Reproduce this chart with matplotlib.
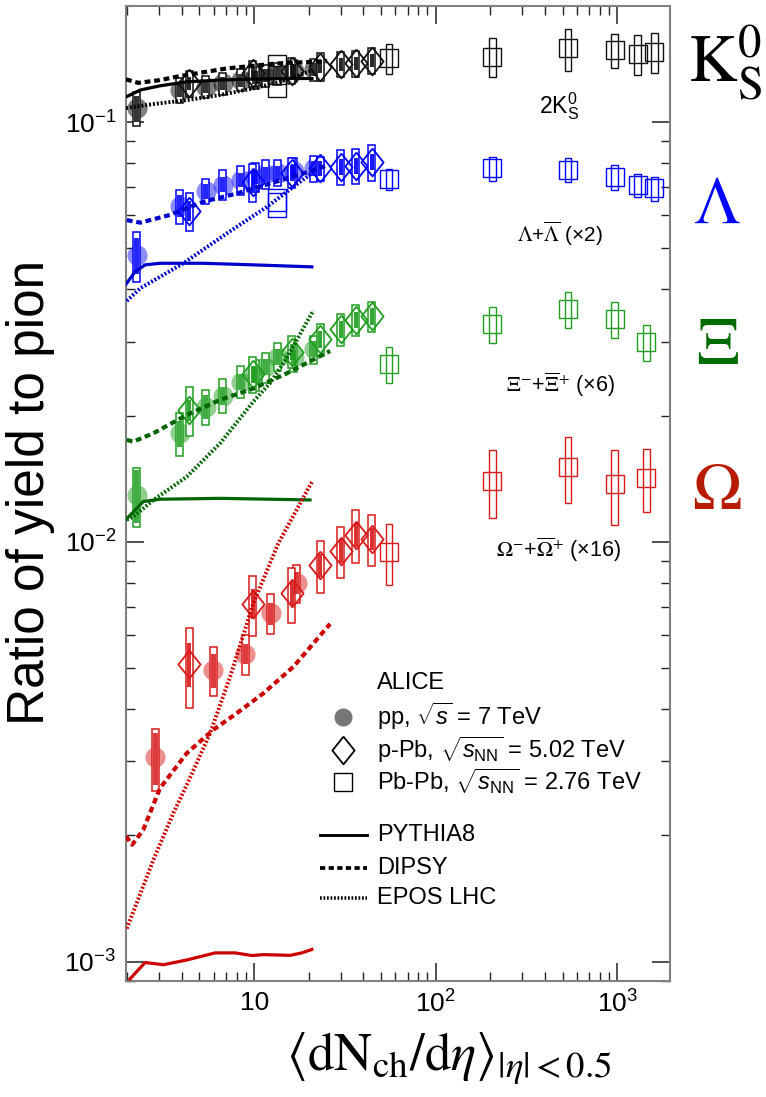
import numpy as np
import matplotlib
matplotlib.use('Agg')
import matplotlib.pyplot as plt
from matplotlib.patches import Rectangle
from matplotlib.lines import Line2D
from matplotlib.ticker import FixedLocator, FuncFormatter, NullFormatter, LogLocator

plt.rcParams['font.family'] = ['Liberation Sans', 'DejaVu Sans']
plt.rcParams['mathtext.fontset'] = 'custom'
plt.rcParams['mathtext.rm'] = 'Liberation Sans'
plt.rcParams['mathtext.it'] = 'Liberation Sans:italic'
plt.rcParams['mathtext.bf'] = 'Liberation Sans:bold'
plt.rcParams['mathtext.sf'] = 'Liberation Sans'

# ------------------------------------------------------------------ data
pp_x = [2.26, 3.90, 5.40, 6.72, 8.45, 10.1, 11.5, 13.5, 16.5, 21.3]
ppb_x = [4.4, 9.8, 16.1, 23.2, 30.0, 36.2, 44.4]
pbpb_x7 = [13.4, 55.5, 205, 537, 966, 1294, 1601]
pbpb_x5 = [55.5, 205, 537, 966, 1447]
omega_pp_x = [2.85, 5.97, 8.92, 12.36, 17.2]

# K0S (x2)
k0_pp = [0.1078, 0.1192, 0.1213, 0.1236, 0.1259, 0.1278, 0.1290, 0.1307, 0.1326, 0.1335]
k0_pp_sys = [0.093, 0.071, 0.060, 0.060, 0.060, 0.060, 0.060, 0.060, 0.060, 0.060]
k0_pp_unc = [0.070, 0.040, 0.035, 0.035, 0.035, 0.035, 0.035, 0.035, 0.035, 0.035]
k0_ppb = [0.1236, 0.1307, 0.1326, 0.1355, 0.1374, 0.1379, 0.1400]
k0_ppb_sys = [0.071, 0.071, 0.071, 0.075, 0.068, 0.071, 0.071]
k0_ppb_unc = [0.035, 0.035, 0.035, 0.035, 0.035, 0.035, 0.035]
k0_pbpb = [0.1298, 0.1418, 0.1430, 0.1498, 0.1484, 0.1452, 0.1470]
k0_pbpb_sys = [0.115, 0.080, 0.107, 0.115, 0.093, 0.109, 0.109]

# Lambda (x2)
la_pp = [0.0482, 0.0632, 0.0685, 0.0710, 0.0728, 0.0741, 0.0751, 0.0757, 0.0766, 0.0776]
la_pp_sys = [0.136, 0.093, 0.071, 0.080, 0.080, 0.080, 0.080, 0.071, 0.071, 0.071]
la_pp_unc = [0.098, 0.060, 0.040, 0.040, 0.040, 0.040, 0.040, 0.040, 0.040, 0.040]
la_ppb = [0.0614, 0.0721, 0.0757, 0.0776, 0.0783, 0.0786, 0.0804]
la_ppb_sys = [0.104, 0.103, 0.082, 0.066, 0.098, 0.096, 0.098]
la_ppb_unc = [0.055, 0.060, 0.045, 0.040, 0.045, 0.045, 0.045]
la_pbpb = [0.0644, 0.0731, 0.0776, 0.0769, 0.0741, 0.0708, 0.0695]
la_pbpb_sys = [0.076, 0.057, 0.066, 0.066, 0.069, 0.064, 0.066]

# Xi (x6)
xi_pp = [0.01294, 0.01815, 0.0210, 0.0223, 0.0241, 0.0250, 0.0261, 0.0276, 0.0275, 0.0288]
xi_pp_sys = [0.160, 0.115, 0.098, 0.093, 0.088, 0.085, 0.082, 0.077, 0.077, 0.077]
xi_pp_unc = [0.145, 0.071, 0.064, 0.050, 0.044, 0.044, 0.044, 0.044, 0.044, 0.044]
xi_ppb = [0.0206, 0.0251, 0.0284, 0.0304, 0.0321, 0.0338, 0.0345]
xi_ppb_sys = [0.134, 0.096, 0.088, 0.088, 0.088, 0.086, 0.082]
xi_ppb_unc = [0.060, 0.045, 0.045, 0.045, 0.045, 0.045, 0.045]
xi_pbpb = [0.02655, 0.0330, 0.0358, 0.0339, 0.0299]
xi_pbpb_sys = [0.098, 0.098, 0.098, 0.098, 0.098]

# Omega (x16)
om_pp = [0.003066, 0.004957, 0.00541, 0.00676, 0.00798]
om_pp_sys = [0.167, 0.134, 0.109, 0.109, 0.102]
om_pp_unc = [0.141, 0.093, 0.055, 0.060, 0.060]
om_ppb = [0.00512, 0.00712, 0.00755, 0.00881, 0.00953, 0.0104, 0.01017]
om_ppb_sys = [0.215, 0.163, 0.150, 0.140, 0.141, 0.145, 0.139]
om_ppb_unc = [0.120, 0.082, 0.069, 0.064, 0.064, 0.064, 0.060]
om_pbpb = [0.00945, 0.01397, 0.0151, 0.01374, 0.01422]
om_pbpb_sys = [0.165, 0.182, 0.178, 0.202, 0.173]

# model curves
k0_pythia_x = [1.97, 2.36, 3.03, 4.26, 6.5, 9.87, 15.1, 20.8]
k0_pythia_y = [0.1148, 0.1192, 0.1220, 0.1247, 0.1259, 0.1266, 0.1270, 0.1270]
k0_dipsy_x = [1.97, 2.3, 3.0, 3.91, 7.07, 13.3, 25.2]
k0_dipsy_y = [0.1264, 0.1240, 0.1258, 0.1287, 0.1342, 0.1379, 0.1397]
k0_epos_x = [1.97, 2.79, 4.26, 6.5, 9.9, 13.9, 17.2, 21.1]
k0_epos_y = [0.1080, 0.1104, 0.1128, 0.1160, 0.1203, 0.1247, 0.1287, 0.1329]

la_pythia_x = [1.97, 2.21, 2.51, 3.03, 5.26, 9.91, 20.8]
la_pythia_y = [0.0411, 0.0440, 0.0457, 0.0461, 0.0461, 0.0457, 0.0452]
la_dipsy_x = [1.99, 2.36, 3.44, 5.26, 8.03, 12.25, 18.7, 25.7]
la_dipsy_y = [0.0584, 0.0576, 0.0601, 0.0646, 0.0676, 0.0714, 0.0755, 0.0790]
la_epos_x = [1.99, 2.36, 4.08, 7.07, 11.75, 16.5, 20.8]
la_epos_y = [0.0375, 0.0402, 0.0461, 0.0543, 0.0628, 0.0702, 0.0755]

xi_pythia_x = [1.97, 2.21, 2.45, 3.03, 6.5, 20.3]
xi_pythia_y = [0.01132, 0.0119, 0.01248, 0.01264, 0.0127, 0.01259]
xi_dipsy_x = [1.99, 2.16, 2.79, 4.26, 6.5, 9.91, 15.1, 26.2]
xi_dipsy_y = [0.0175, 0.01733, 0.01815, 0.02006, 0.0218, 0.0232, 0.0252, 0.0285]
xi_epos_x = [1.99, 2.16, 2.79, 4.26, 6.5, 9.91, 12.25, 15.1, 21.2]
xi_epos_y = [0.0113, 0.01148, 0.01259, 0.0143, 0.01718, 0.0216, 0.0239, 0.0274, 0.0356]

om_pythia_x = [2.07, 2.51, 3.16, 4.26, 6.10, 7.86, 9.71, 11.25, 15.8, 18.3, 20.8]
om_pythia_y = [0.00091, 0.000996, 0.000984, 0.00101, 0.00105, 0.00105, 0.001035, 0.00104, 0.001036, 0.00105, 0.00107]
om_dipsy_x = [1.97, 2.13, 2.45, 3.03, 4.26, 5.97, 8.03, 11.25, 16.5, 26.2]
om_dipsy_y = [0.00199, 0.0019, 0.00206, 0.00259, 0.00314, 0.00357, 0.00391, 0.00436, 0.00505, 0.00638]
om_epos_x = [1.99, 2.79, 3.59, 4.26, 5.72, 7.38, 9.91, 13.6, 20.8]
om_epos_y = [0.0012, 0.00175, 0.00226, 0.00264, 0.0035, 0.00478, 0.00715, 0.00993, 0.0139]

# ------------------------------------------------------------------ figure
W, H = 766, 1097
fig = plt.figure(figsize=(W / 100, H / 100), dpi=100)
ax = fig.add_axes([126 / W, 1 - 981 / H, 544 / W, 975 / H])
ax.set_xscale('log')
ax.set_yscale('log')
XMIN, XMAX = 1.97, 1950
ax.set_xlim(XMIN, XMAX)
ax.set_ylim(9.0e-4, 0.189)
DEC = 544 / np.log10(XMAX / XMIN)  # pixels per decade


def rect(x, y, e, hw, color, fill, lw=1.0, alpha=1.0, z=4, face=None):
    f = 10 ** (hw / DEC)
    fc = face if face is not None else (color if fill else 'none')
    ec = 'none' if fill else color
    ax.add_patch(Rectangle((x / f, y * (1 - e)), x * f - x / f, 2 * y * e,
                           facecolor=fc, edgecolor=ec, lw=lw, alpha=alpha, zorder=z))


DIAMOND = [(0, 1), (0.8, 0), (0, -1), (-0.8, 0), (0, 1)]

species = [
    dict(col='#111111', circ='#000000', line='#000000', ca=0.5,
         pp_x=pp_x, pp=k0_pp, pp_s=k0_pp_sys, pp_u=k0_pp_unc,
         ppb=k0_ppb, ppb_s=k0_ppb_sys, ppb_u=k0_ppb_unc,
         pb_x=pbpb_x7, pb=k0_pbpb, pb_s=k0_pbpb_sys,
         m=[(k0_pythia_x, k0_pythia_y), (k0_dipsy_x, k0_dipsy_y), (k0_epos_x, k0_epos_y)]),
    dict(col='#0000ff', circ='#1a1aff', line='#0000cc', ca=0.5,
         pp_x=pp_x, pp=la_pp, pp_s=la_pp_sys, pp_u=la_pp_unc,
         ppb=la_ppb, ppb_s=la_ppb_sys, ppb_u=la_ppb_unc,
         pb_x=pbpb_x7, pb=la_pbpb, pb_s=la_pbpb_sys,
         m=[(la_pythia_x, la_pythia_y), (la_dipsy_x, la_dipsy_y), (la_epos_x, la_epos_y)]),
    dict(col='#1f9e1f', circ='#22a022', line='#006400', ca=0.5,
         pp_x=pp_x, pp=xi_pp, pp_s=xi_pp_sys, pp_u=xi_pp_unc,
         ppb=xi_ppb, ppb_s=xi_ppb_sys, ppb_u=xi_ppb_unc,
         pb_x=pbpb_x5, pb=xi_pbpb, pb_s=xi_pbpb_sys,
         m=[(xi_pythia_x, xi_pythia_y), (xi_dipsy_x, xi_dipsy_y), (xi_epos_x, xi_epos_y)]),
    dict(col='#d91a1a', circ='#d92020', line='#cc0000', ca=0.5,
         pp_x=omega_pp_x, pp=om_pp, pp_s=om_pp_sys, pp_u=om_pp_unc,
         ppb=om_ppb, ppb_s=om_ppb_sys, ppb_u=om_ppb_unc,
         pb_x=pbpb_x5, pb=om_pbpb, pb_s=om_pbpb_sys,
         m=[(om_pythia_x, om_pythia_y), (om_dipsy_x, om_dipsy_y), (om_epos_x, om_epos_y)]),
]

styles = [dict(ls='-', lw=2.3),
          dict(ls=(0, (1.4, 0.9)), lw=3.0),
          dict(ls=(0, (0.5, 0.5)), lw=2.8)]

for s in species:
    c = s['col']
    # pp
    ax.plot(s['pp_x'], s['pp'], 'o', ms=14.5, color=s['circ'], alpha=s['ca'], mec='none', zorder=3)
    for x, y, es, eu in zip(s['pp_x'], s['pp'], s['pp_s'], s['pp_u']):
        rect(x, y, es, 3.6, c, False, lw=1.1, z=4, face='white')
        rect(x, y, eu, 2.6, c, True, alpha=0.85, z=5)
    # p-Pb
    for x, y, es, eu in zip(ppb_x, s['ppb'], s['ppb_s'], s['ppb_u']):
        rect(x, y, es, 3.6, c, False, lw=1.1, z=4, face='white')
        rect(x, y, eu, 2.0, c, True, alpha=0.9, z=6)
    ax.plot(ppb_x, s['ppb'], linestyle='none', marker=DIAMOND, ms=20, mfc='none',
            mec=c, mew=1.3, zorder=5.5)
    # Pb-Pb
    for x, y, es in zip(s['pb_x'], s['pb'], s['pb_s']):
        hw = 9.0 if x < 20 else 3.2
        rect(x, y, es, hw, c, False, lw=1.0, z=4)
    ax.plot(s['pb_x'], s['pb'], linestyle='none', marker='s', ms=13, mfc='none',
            mec=c, mew=1.0, zorder=4.5)
    # models
    for (mx, my), st in zip(s['m'], styles):
        ax.plot(mx, my, color=s['line'], linestyle=st['ls'], lw=st['lw'],
                zorder=7, dash_capstyle='butt')

# ------------------------------------------------------------------ axes cosmetics
for sp in ax.spines.values():
    sp.set_color('#808080')
    sp.set_linewidth(1.5)
ax.tick_params(which='both', direction='in', top=True, right=True, color='#222222')
ax.tick_params(which='major', length=13, width=1.1, labelsize=19, pad=7)
ax.tick_params(which='minor', length=6.5, width=1.0)
ax.xaxis.set_major_locator(FixedLocator([10, 100, 1000]))
ax.xaxis.set_minor_locator(LogLocator(base=10, subs=np.arange(2, 10), numticks=20))
ax.yaxis.set_major_locator(FixedLocator([1e-3, 1e-2, 1e-1]))
ax.yaxis.set_minor_locator(LogLocator(base=10, subs=np.arange(2, 10), numticks=20))
ax.xaxis.set_minor_formatter(NullFormatter())
ax.yaxis.set_minor_formatter(NullFormatter())
ax.xaxis.set_major_formatter(FuncFormatter(
    lambda v, p: '10' if abs(v - 10) < 1e-6 else r'$10^{%d}$' % round(np.log10(v))))
ax.yaxis.set_major_formatter(FuncFormatter(
    lambda v, p: r'$10^{%d}$' % round(np.log10(v))))

# axis labels
fig.text(31 / W, 1 - 492 / H, 'Ratio of yield to pion', rotation=90,
         fontsize=37, ha='center', va='center')
fig.text(449 / W, 1 - 1058 / H,
         r'$\langle\mathrm{dN}_{\mathrm{ch}}/\mathrm{d}\eta\rangle_{|\eta|<0.5}$',
         fontsize=38, ha='center', va='center', math_fontfamily='stix')

# species labels on the right
fig.text(688 / W, 1 - 82 / H, r'$\mathrm{K}^{0}_{\mathrm{S}}$', fontsize=48,
         ha='left', va='baseline', math_fontfamily='stix', color='black')
fig.text(717 / W, 1 - 223 / H, r'$\Lambda$', fontsize=48, ha='center', va='baseline',
         math_fontfamily='stix', color='#0000ff')
fig.text(717 / W, 1 - 363 / H, r'$\Xi$', fontsize=48, ha='center', va='baseline',
         math_fontfamily='stix', color='#006b00')
fig.text(717 / W, 1 - 509 / H, r'$\Omega$', fontsize=48, ha='center', va='baseline',
         math_fontfamily='stix', color='#b81c00')

# labels inside the frame
fig.text(559 / W, 1 - 106 / H, r'2K$^{0}_{\mathrm{S}}$', fontsize=16.5, ha='center', va='center')
fig.text(560 / W, 1 - 234 / H, r'$\Lambda$+$\overline{\Lambda}$ (×2)', fontsize=15,
         ha='center', va='center', math_fontfamily='stix')
fig.text(560 / W, 1 - 385 / H, r'$\Xi^{-}$+$\overline{\Xi}^{+}$ (×6)', fontsize=15.5,
         ha='center', va='center', math_fontfamily='stix')
fig.text(559 / W, 1 - 550 / H, r'$\Omega^{-}$+$\overline{\Omega}^{+}$ (×16)', fontsize=15.5,
         ha='center', va='center', math_fontfamily='stix')

# legend (manual)
T = ax.transAxes
lx_m, lx_t = 0.399, 0.461
LFS = 17
ax.text(lx_t, 0.306, 'ALICE', transform=T, fontsize=LFS, va='center')
ax.plot([lx_m], [0.271], 'o', transform=T, ms=13, color='#777777', mec='none', clip_on=False)
ax.text(lx_t, 0.271, r'pp, $\sqrt{s}$ = 7 TeV', transform=T, fontsize=LFS, va='center')
ax.plot([lx_m], [0.2369], linestyle='none', marker=DIAMOND, ms=20, mfc='none', mec='k',
        mew=1.3, transform=T, clip_on=False)
ax.text(lx_t, 0.2369, r'p-Pb, $\sqrt{s_{\mathrm{NN}}}$ = 5.02 TeV', transform=T,
        fontsize=LFS, va='center')
ax.plot([lx_m], [0.2044], 's', ms=13, mfc='none', mec='k', mew=1.0, transform=T,
        clip_on=False)
ax.text(lx_t, 0.2044, r'Pb-Pb, $\sqrt{s_{\mathrm{NN}}}$ = 2.76 TeV', transform=T,
        fontsize=LFS, va='center')
for yy, st, lab in zip([0.1497, 0.1162, 0.0854], styles, ['PYTHIA8', 'DIPSY', 'EPOS LHC']):
    ax.add_line(Line2D([0.357, 0.4425], [yy, yy], transform=T, color='k',
                       linestyle=st['ls'], lw=st['lw'] * 0.9, dash_capstyle='butt'))
    ax.text(lx_t, yy, lab, transform=T, fontsize=LFS, va='center')

fig.savefig('out.png', dpi=100)
